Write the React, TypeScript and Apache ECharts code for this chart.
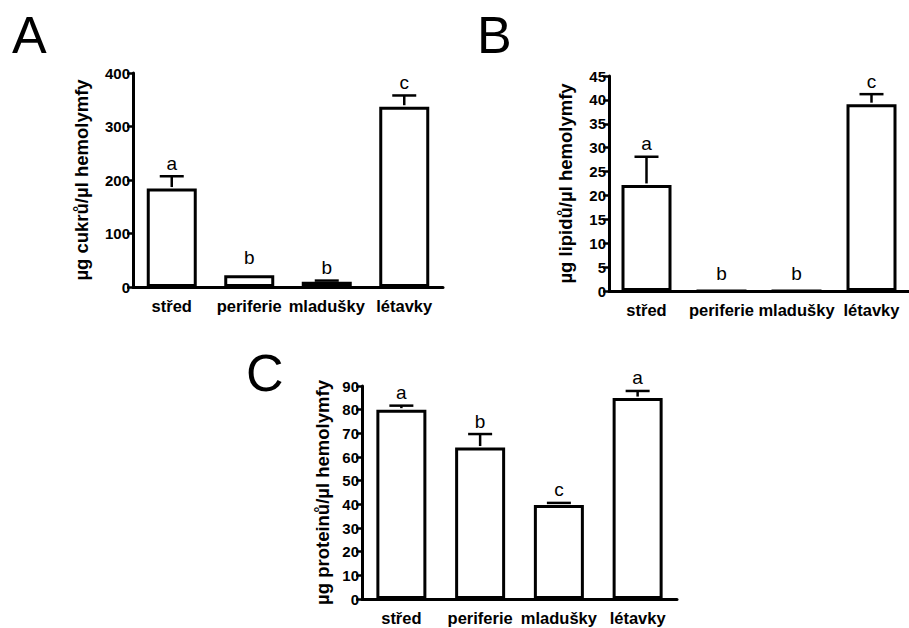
import React, { useEffect, useRef } from "react";
import * as echarts from "echarts";

const categories = ["střed", "periferie", "mladušky", "létavky"];

const sugarMeans = [184, 22, 10, 337];
const sugarErr = [23, 0, 2, 21];
const sugarLetters = ["a", "b", "b", "c"];
const sugarTicks = { min: 0, max: 400, interval: 100 };

const lipidMeans = [22.2, 0, 0, 39.1];
const lipidErr = [5.9, 0, 0, 2.1];
const lipidLetters = ["a", "b", "b", "c"];
const lipidTicks = { min: 0, max: 45, interval: 5 };

const proteinMeans = [80, 64, 39.7, 84.9];
const proteinErr = [1.7, 5.7, 0.9, 3.0];
const proteinLetters = ["a", "b", "c", "a"];
const proteinTicks = { min: 0, max: 90, interval: 10 };

const yNames = ["µg cukrů/µl hemolymfy", "µg lipidů/µl hemolymfy", "µg proteinů/µl hemolymfy"];
const panelLabels = ["A", "B", "C"];

const FONT = "'Liberation Sans', Arial, sans-serif";

export default function App() {
  const ref = useRef<HTMLDivElement>(null);
  useEffect(() => {
    document.body.style.margin = "0";
    document.body.style.background = "#fff";
    const chart = echarts.init(ref.current!, null, { renderer: "svg" });

    const grids = [
      { left: 133, top: 73, width: 310, height: 214 },
      { left: 609, top: 76, width: 309, height: 215 },
      { left: 362, top: 386, width: 315, height: 213 },
    ];
    const means = [sugarMeans, lipidMeans, proteinMeans];
    const errs = [sugarErr, lipidErr, proteinErr];
    const letters = [sugarLetters, lipidLetters, proteinLetters];
    const ticks = [sugarTicks, lipidTicks, proteinTicks];
    const nameGaps = [42, 34, 30];

    const xAxes = grids.map((_, i) => ({
      type: "category",
      gridIndex: i,
      data: categories,
      axisLine: { lineStyle: { color: "#000", width: 3 } },
      axisTick: { show: false },
      axisLabel: {
        color: "#000",
        fontFamily: FONT,
        fontWeight: "bold",
        fontSize: 16.5,
        margin: 10,
        interval: 0,
      },
    }));
    const yAxes = grids.map((_, i) => ({
      type: "value",
      gridIndex: i,
      min: ticks[i].min,
      max: ticks[i].max,
      interval: ticks[i].interval,
      name: yNames[i],
      nameLocation: "middle",
      nameGap: nameGaps[i],
      nameTextStyle: {
        color: "#000",
        fontFamily: FONT,
        fontWeight: "bold",
        fontSize: 18.5,
      },
      splitLine: { show: false },
      axisLine: { show: true, lineStyle: { color: "#000", width: 3 } },
      axisTick: { show: true, length: 6, lineStyle: { color: "#000", width: 2.5 } },
      axisLabel: {
        color: "#000",
        fontFamily: FONT,
        fontWeight: "bold",
        fontSize: 15,
        margin: 3,
      },
    }));

    const series: any[] = [];
    grids.forEach((_, i) => {
      series.push({
        type: "bar",
        xAxisIndex: i,
        yAxisIndex: i,
        data: means[i],
        barWidth: 50,
        itemStyle: { color: "#fff", borderColor: "#000", borderWidth: 3 },
        z: 2,
      });
      const lt = letters[i];
      series.push({
        type: "custom",
        xAxisIndex: i,
        yAxisIndex: i,
        z: 3,
        clip: false,
        data: means[i].map((m, k) => [k, m, errs[i][k]]),
        encode: { x: 0, y: 1 },
        renderItem: (params: any, api: any) => {
          const k = api.value(0);
          const m = api.value(1);
          const e = api.value(2);
          const base = api.coord([k, m]);
          const top = api.coord([k, m + e]);
          const children: any[] = [];
          if (e > 0) {
            children.push({
              type: "line",
              shape: { x1: base[0], y1: base[1] - 1.5, x2: top[0], y2: top[1] },
              style: { stroke: "#000", lineWidth: 2.5 },
            });
            children.push({
              type: "line",
              shape: { x1: top[0] - 12, y1: top[1], x2: top[0] + 12, y2: top[1] },
              style: { stroke: "#000", lineWidth: 2.5 },
            });
          }
          children.push({
            type: "text",
            style: {
              text: lt[params.dataIndex],
              x: top[0],
              y: top[1] - (e > 0 ? 13 : 18),
              align: "center",
              verticalAlign: "middle",
              fill: "#000",
              font: `19px ${FONT}`,
            },
          });
          return { type: "group", children };
        },
      });
    });

    const labelPos = [
      [12, 9],
      [477, 9],
      [246, 347],
    ];

    chart.setOption({
      animation: false,
      backgroundColor: "#fff",
      grid: grids,
      xAxis: xAxes,
      yAxis: yAxes,
      series,
      graphic: panelLabels.map((t, i) => ({
        type: "text",
        left: labelPos[i][0],
        top: labelPos[i][1],
        style: { text: t, fill: "#000", font: `52px ${FONT}` },
      })),
    });
    return () => chart.dispose();
  }, []);
  return (
    <div
      ref={ref}
      style={{ position: "absolute", left: 0, top: 0, width: 909, height: 628 }}
    />
  );
}
